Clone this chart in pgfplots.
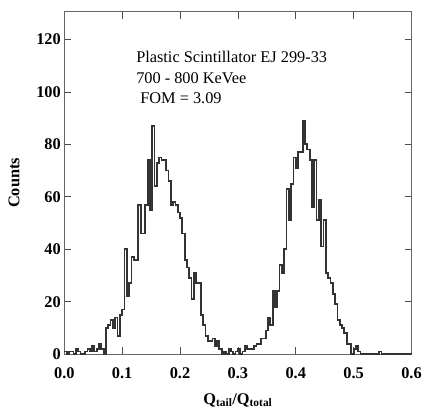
\documentclass[border=0pt]{standalone}
\usepackage{fontspec}
\setmainfont{Liberation Serif}
\usepackage{pgfplots}
\pgfplotsset{compat=1.18}
\usepackage{pgfplotstable}

% bin left edge, counts (bin width 0.004)
\pgfplotstableread{
x y
0.000 1
0.004 0
0.008 1
0.012 1
0.016 0
0.020 2
0.024 1
0.028 0
0.032 0
0.036 1
0.040 2
0.044 1
0.048 3
0.052 1
0.056 2
0.060 4
0.064 2
0.068 0
0.072 10
0.076 11
0.080 13
0.084 10
0.088 14
0.092 7
0.096 15
0.100 17
0.104 40
0.108 22
0.112 27
0.116 37
0.120 36
0.124 36
0.128 57
0.132 46
0.136 46
0.140 57
0.144 74
0.148 55
0.152 87
0.156 64
0.160 73
0.164 75
0.168 74
0.172 74
0.176 70
0.180 66
0.184 57
0.188 58
0.192 57
0.196 54
0.200 52
0.204 46
0.208 36
0.212 33
0.216 29
0.220 21
0.224 31
0.228 27
0.232 27
0.236 15
0.240 11
0.244 7
0.248 5
0.252 5
0.256 6
0.260 3
0.264 5
0.268 2
0.272 0
0.276 1
0.280 0
0.284 2
0.288 1
0.292 0
0.296 1
0.300 2
0.304 0
0.308 1
0.312 3
0.316 2
0.320 2
0.324 2
0.328 3
0.332 4
0.336 4
0.340 6
0.344 6
0.348 9
0.352 14
0.356 11
0.360 24
0.364 18
0.368 24
0.372 34
0.376 31
0.380 40
0.384 63
0.388 51
0.392 65
0.396 75
0.400 71
0.404 77
0.408 77
0.412 89
0.416 80
0.420 78
0.424 74
0.428 56
0.432 74
0.436 51
0.440 59
0.444 41
0.448 51
0.452 31
0.456 29
0.460 27
0.464 23
0.468 19
0.472 13
0.476 11
0.480 10
0.484 8
0.488 4
0.492 4
0.496 0
0.500 2
0.504 3
0.508 1
0.512 0
0.544 1
0.548 0
0.600 0
}\histdata

\begin{document}
\begin{tikzpicture}
\begin{axis}[
  scale only axis,
  width=351pt, height=346pt,
  xmin=0, xmax=0.6, ymin=0, ymax=130.5,
  xtick={0,0.1,...,0.6},
  ytick={0,20,...,120},
  tick align=inside,
  major tick length=7pt,
  tick style={black!70, line width=0.6pt},
  axis line style={black!60, line width=0.8pt},
  xticklabel style={/pgf/number format/fixed, /pgf/number format/fixed zerofill,
                    /pgf/number format/precision=1, yshift=-10pt},
  /pgf/number format/assume math mode=true,
  tick label style={font=\fontsize{16.5}{20}\selectfont\bfseries},
  label style={font=\fontsize{16.5}{20}\selectfont\bfseries},
  xlabel={Q\textsubscript{tail}/Q\textsubscript{total}},
  ylabel={Counts},
  xlabel shift=8pt,
  ylabel shift=10pt,
  clip=false,
]
\addplot[const plot mark left, black!80, line width=1.8pt] table[x=x, y=y] {\histdata};
\node[anchor=north west, align=left, inner sep=0pt,
      font=\fontsize{16.5}{20.5}\selectfont]
  at (axis cs:0.124,115.5) {Plastic Scintillator EJ 299-33\\700 - 800 KeVee\\\ FOM = 3.09};
\end{axis}
\path (-65pt,-54pt) rectangle (360pt,358pt);
\end{tikzpicture}
\end{document}
